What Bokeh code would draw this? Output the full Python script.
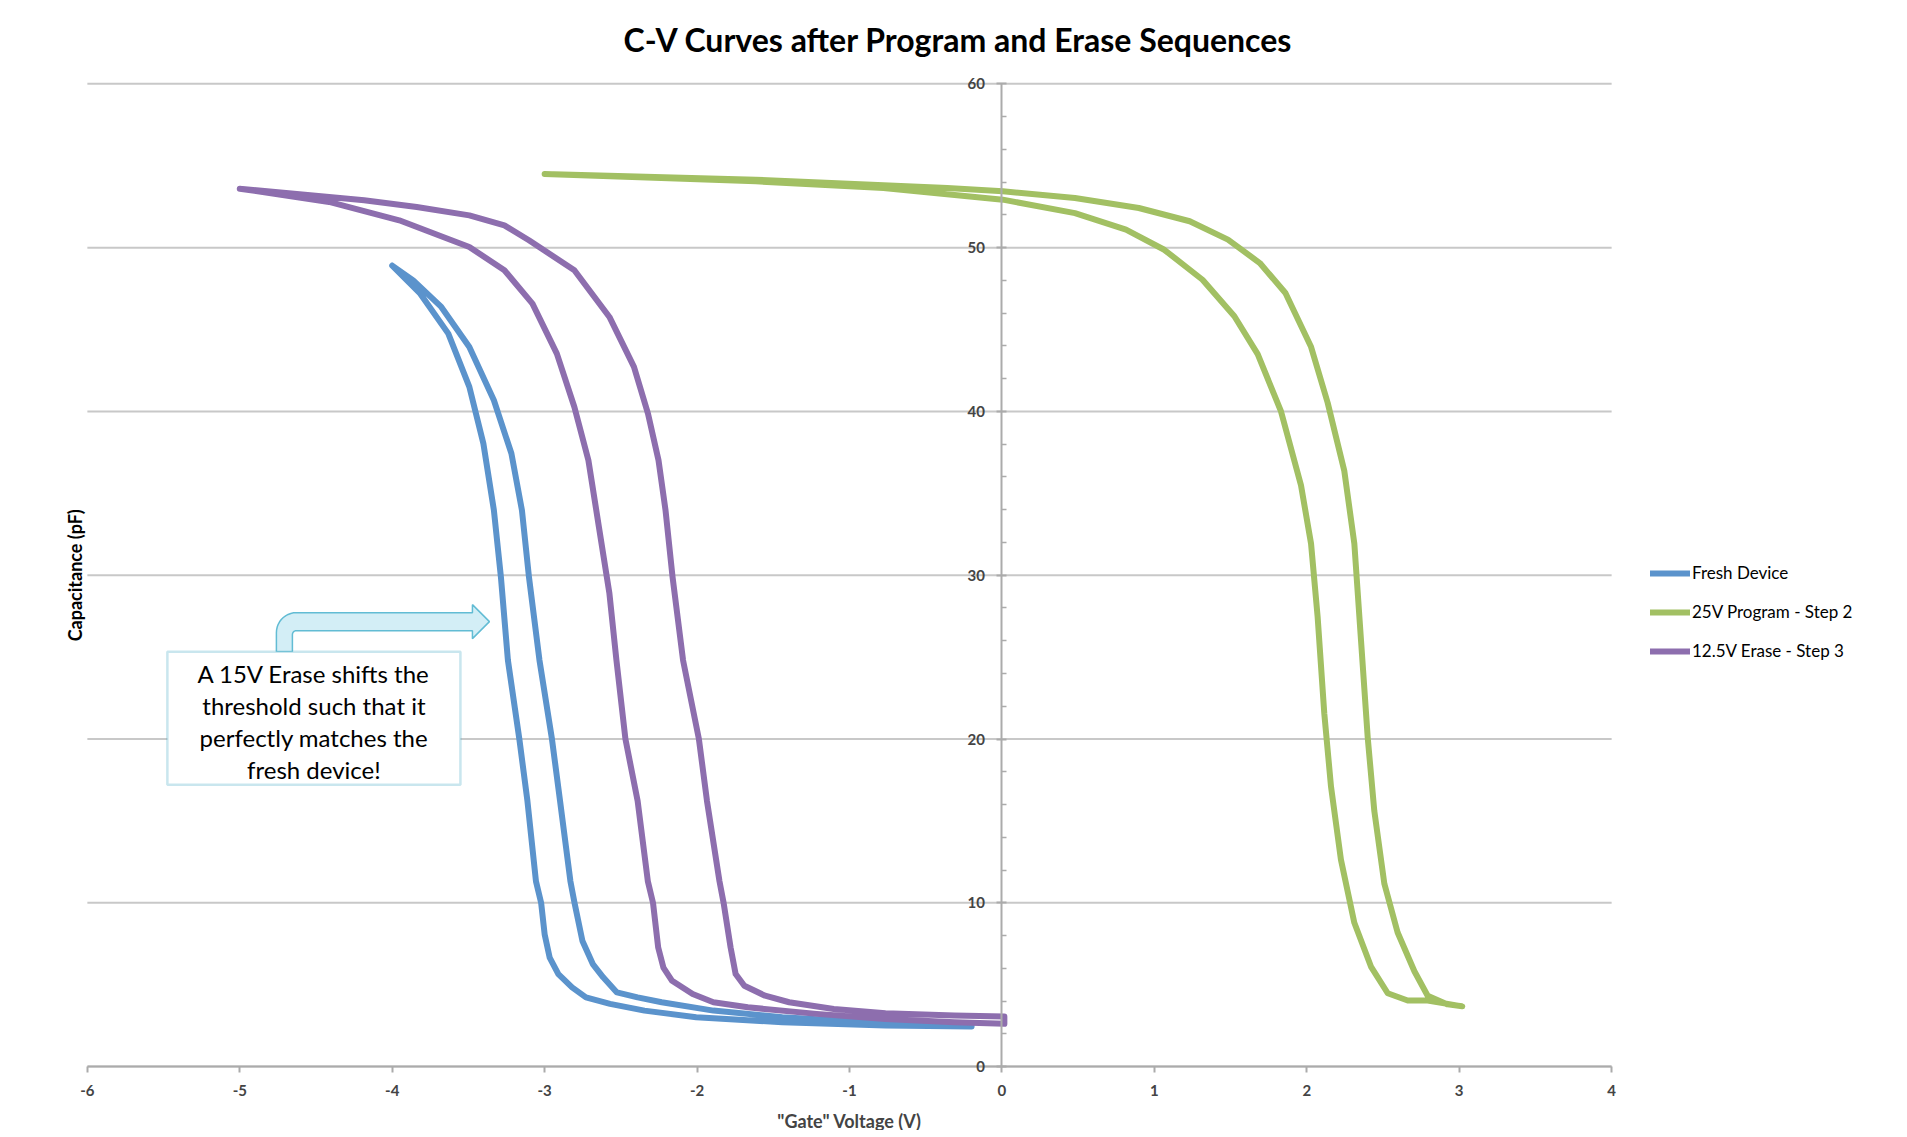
import numpy as np
from bokeh.plotting import figure
from bokeh.models import (Range1d, FixedTicker, Legend, LegendItem, BoxAnnotation, Label, Title)
from bokeh.embed import file_html
from bokeh.resources import INLINE

# ---------------- data ----------------
title_text = "C-V Curves after Program and Erase Sequences"
x_label = '"Gate" Voltage (V)'
y_label = "Capacitance (pF)"
x_ticks = [-6, -5, -4, -3, -2, -1, 0, 1, 2, 3, 4]
y_ticks = [0, 10, 20, 30, 40, 50, 60]
y_minor = [2, 4, 6, 8, 12, 14, 16, 18, 22, 24, 26, 28, 32, 34, 36, 38, 42, 44, 46, 48, 52, 54, 56, 58]
series_names = ["Fresh Device", "25V Program - Step 2", "12.5V Erase - Step 3"]

fresh_v = [-4.00, -3.816, -3.632, -3.494, -3.402, -3.333, -3.287, -3.241, -3.166, -3.113, -3.057, -3.023,
           -3.000, -2.967, -2.910, -2.820, -2.729, -2.571, -2.345, -2.006, -1.441, -0.764, -0.199,
           -0.199, -0.877, -1.441, -1.893, -2.232, -2.390, -2.526, -2.616, -2.684, -2.752, -2.804, -2.831,
           -2.899, -2.952, -3.034, -3.103, -3.149, -3.218, -3.333, -3.494, -3.678, -3.862, -4.00]
fresh_c = [48.9, 47.19, 44.75, 41.50, 38.04, 33.97, 29.90, 24.81, 20.0, 16.22, 11.32, 10.0,
           8.08, 6.66, 5.65, 4.84, 4.23, 3.83, 3.42, 3.02, 2.71, 2.51, 2.45,
           2.57, 2.71, 3.02, 3.42, 3.93, 4.23, 4.53, 5.45, 6.26, 7.67, 10.0, 11.32,
           16.22, 20.0, 24.81, 29.90, 33.97, 37.43, 40.68, 43.94, 46.38, 48.0, 48.9]

program_v = [-3.0, -1.614, -0.358, 0.006, 0.479, 0.898, 1.232, 1.483, 1.692, 1.860, 2.027, 2.137, 2.246,
             2.312, 2.356, 2.400, 2.443, 2.509, 2.596, 2.706, 2.793, 2.924, 3.02,
             2.793, 2.662, 2.531, 2.421, 2.312, 2.224, 2.159, 2.115, 2.071, 2.028, 1.962, 1.831, 1.678,
             1.525, 1.316, 1.065, 0.814, 0.479, 0.006, -0.777, -1.614, -3.0]
program_c = [54.5, 54.15, 53.64, 53.44, 53.03, 52.42, 51.61, 50.49, 49.06, 47.23, 43.97, 40.53, 36.38,
             31.93, 25.99, 20.06, 15.61, 11.16, 8.19, 5.82, 4.33, 3.80, 3.68,
             4.04, 4.04, 4.48, 6.11, 8.78, 12.64, 17.09, 21.54, 27.48, 31.93, 35.49, 40.0, 43.50,
             45.81, 48.04, 49.87, 51.10, 52.11, 52.93, 53.64, 54.05, 54.5]

erase_v = [-5.0, -4.414, -3.954, -3.494, -3.264, -3.080, -2.920, -2.805, -2.713, -2.644, -2.575, -2.529,
           -2.470, -2.390, -2.323, -2.289, -2.255, -2.221, -2.164, -2.029, -1.893, -1.667, -1.216,
           -0.764, -0.312, 0.016,
           0.016, -0.312, -0.764, -1.103, -1.396, -1.554, -1.690, -1.747, -1.780, -1.826, -1.853,
           -1.935, -1.988, -2.092, -2.161, -2.207, -2.253, -2.322, -2.414, -2.575, -2.805, -3.103,
           -3.264, -3.494, -3.839, -4.184, -5.0]
erase_c = [53.6, 52.79, 51.67, 50.04, 48.62, 46.58, 43.53, 40.27, 37.02, 32.95, 28.88, 24.81,
           20.0, 16.22, 11.32, 10.0, 7.27, 6.05, 5.24, 4.43, 3.93, 3.62, 3.22,
           2.91, 2.71, 2.61,
           3.06, 3.12, 3.26, 3.52, 3.93, 4.33, 4.94, 5.65, 7.27, 10.0, 11.32,
           16.22, 20.0, 24.81, 29.90, 33.97, 37.02, 39.87, 42.72, 45.77, 48.62, 50.45,
           51.36, 51.97, 52.48, 52.89, 53.6]

note_lines = ["A 15V Erase shifts the", "threshold such that it", "perfectly matches the", "fresh device!"]

# ---------------- figure ----------------
FONT = "Lato"
p = figure(frame_width=1570, frame_height=1055,
           x_range=Range1d(-6.15, 4.15), y_range=Range1d(-3.9, 60.51),
           output_backend="svg", toolbar_location=None,
           min_border_left=64, min_border_right=240, min_border_top=75, min_border_bottom=0)
p.outline_line_color = None
p.background_fill_color = "white"

p.add_layout(Title(text=title_text, align="left", offset=559, vertical_align="middle", standoff=32,
                   text_font=FONT, text_font_size="32px", text_font_style="bold",
                   text_color="black"), "above")

# horizontal gridlines spanning exactly the x-axis extent
p.xgrid.visible = False
p.ygrid.visible = False
p.segment(x0=[x_ticks[0]] * len(y_ticks), y0=y_ticks, x1=[x_ticks[-1]] * len(y_ticks), y1=y_ticks,
          line_color="#C8C8C8", line_width=2, level="underlay")

# x axis crossing at y = 0
p.xaxis.fixed_location = 0
p.xaxis.bounds = (x_ticks[0], x_ticks[-1])
p.xaxis.ticker = FixedTicker(ticks=x_ticks)
p.xaxis.major_label_overrides = {t: str(t) for t in x_ticks}
p.xaxis.axis_label = x_label
p.xaxis.axis_label_text_font = FONT
p.xaxis.axis_label_text_font_style = "bold"
p.xaxis.axis_label_text_font_size = "18px"
p.xaxis.axis_label_standoff = 11
p.xaxis.major_label_text_font = FONT
p.xaxis.major_label_text_font_style = "bold"
p.xaxis.major_label_text_font_size = "15px"
p.xaxis.major_label_standoff = 12
p.xaxis.axis_line_color = "#ABABAB"
p.xaxis.axis_line_width = 2
p.xaxis.major_tick_line_color = "#ABABAB"
p.xaxis.major_tick_line_width = 2
p.xaxis.major_tick_out = 6
p.xaxis.major_tick_in = 0
p.xaxis.minor_tick_line_color = None

# y axis crossing at x = 0
p.yaxis.fixed_location = 0
p.yaxis.bounds = (y_ticks[0], y_ticks[-1])
p.yaxis.ticker = FixedTicker(ticks=y_ticks, minor_ticks=y_minor)
p.yaxis.major_label_text_font = FONT
p.yaxis.major_label_text_font_style = "bold"
p.yaxis.major_label_text_font_size = "15px"
p.yaxis.major_label_standoff = 12
p.yaxis.axis_line_color = "#ABABAB"
p.yaxis.axis_line_width = 2
p.yaxis.major_tick_line_color = "#ABABAB"
p.yaxis.major_tick_line_width = 2
p.yaxis.major_tick_out = 5
p.yaxis.major_tick_in = 5
p.yaxis.minor_tick_line_color = "#ABABAB"
p.yaxis.minor_tick_line_width = 1.5
p.yaxis.minor_tick_out = 0
p.yaxis.minor_tick_in = 5

# ---------------- annotation helpers (screen px -> data) ----------------
def dx(px):
    return -6 + (px - 87) / 152.4

def dy(py):
    return (1067 - py) / 16.38

# y axis title at the left edge
p.add_layout(Label(x=dx(75), y=30, text=y_label, angle=np.pi / 2,
                   text_align="center", text_baseline="middle",
                   text_font=FONT, text_font_style="bold", text_font_size="18px",
                   text_color="black"))

# ---------------- series ----------------
colors = ["#5B93CC", "#A2C063", "#8D6EAE"]
r1 = p.line(fresh_v, fresh_c, line_color=colors[0], line_width=6, line_join="round", line_cap="round")
r2 = p.line(program_v, program_c, line_color=colors[1], line_width=6, line_join="round", line_cap="round")
r3 = p.line(erase_v, erase_c, line_color=colors[2], line_width=6, line_join="round", line_cap="round")

legend = Legend(items=[LegendItem(label=series_names[0], renderers=[r1]),
                       LegendItem(label=series_names[1], renderers=[r2]),
                       LegendItem(label=series_names[2], renderers=[r3])],
                location=(16, 469), border_line_color=None, background_fill_alpha=0,
                glyph_width=40, glyph_height=20, label_height=20, spacing=18,
                padding=0, margin=0, label_standoff=2,
                label_text_font=FONT, label_text_font_size="17px", label_text_color="black")
p.add_layout(legend, "right")

R, r = 20, 4
a_out = np.linspace(np.pi, 1.5 * np.pi, 12)
a_in = np.linspace(1.5 * np.pi, np.pi, 6)
ax = [276] + list(276 + R + R * np.cos(a_out)) + [472, 472, 489, 472, 472] + list(292 + r + r * np.cos(a_in)) + [292]
ay = [652] + list(613 + R + R * np.sin(a_out)) + [613, 605, 622, 639, 631] + list(631 + r + r * np.sin(a_in)) + [652]
p.patch([dx(v) for v in ax], [dy(v) for v in ay], fill_color="#D3EEF6", line_color="#62BCD4", line_width=1.5)

p.add_layout(BoxAnnotation(left=dx(167), right=dx(460), top=dy(652), bottom=dy(785),
                           fill_color="white", fill_alpha=1.0, line_color="#4BACC6", line_width=2.5))
line_y = [674, 706, 738, 770]
for t, yy in zip(note_lines, line_y):
    p.add_layout(Label(x=dx(313.5), y=dy(yy), text=t, text_align="center", text_baseline="middle",
                       text_font=FONT, text_font_size="24px", text_color="black"))

open("out.html", "w").write(file_html(p, INLINE))
